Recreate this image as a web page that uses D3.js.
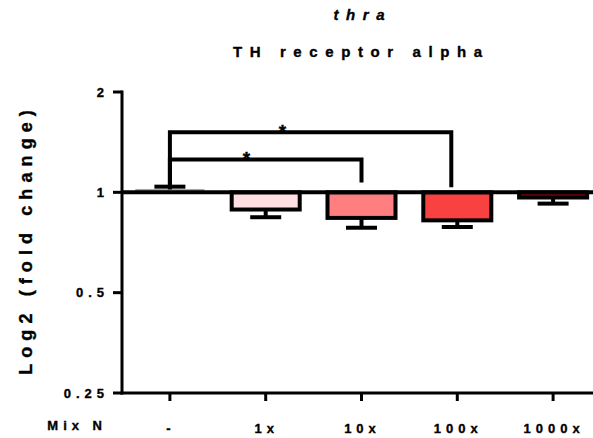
<!DOCTYPE html>
<html>
<head>
<meta charset="utf-8">
<script src="https://cdn.jsdelivr.net/npm/d3@7"></script>
<style>
  html, body { margin: 0; padding: 0; background: #fff; }
  svg { display: block; font-family: "Liberation Sans", Arial, sans-serif; font-weight: bold; }
  svg text { fill: #000; stroke: #000; stroke-width: 0.35px; }
</style>
</head>
<body>
<svg id="chart" width="593" height="438"></svg>
<script>
// Relative expression of thra (fold change vs control), mean and SEM per group
const categories = ["-", "1x", "10x", "100x", "1000x"];
const means = [1.02, 0.888, 0.838, 0.824, 0.965];
const sems = [0.02, 0.046, 0.055, 0.037, 0.040];
const fills = ["#a6a6a6", "#ffdfe1", "#ff7f80", "#fa4142", "#b00000"];
const yTicks = [0.25, 0.5, 1, 2];
const yTickLabels = ["0.25", "0.5", "1", "2"];
// significance comparisons against control, bracket height in fold-change units
const compareTo = ["10x", "100x"];
const bracketLevels = [1.255, 1.515];
const bracketLabels = ["*", "*"];

const svg = d3.select("#chart");
const plotLeft = 122, plotRight = 601, plotTop = 92, plotBottom = 393;

const x = d3.scaleBand().domain(categories).range([plotLeft, plotRight])
  .paddingInner(0.29).paddingOuter(0.145);
const y = d3.scaleLog().base(2).domain([0.25, 2]).range([plotBottom, plotTop]);
const cx = c => x(c) + x.bandwidth() / 2;

// wide-tracked labels; letter-spacing also trails the last glyph, so anchors are nudged by it
const tickLS = 5;

// titles
const titleLS = 7.6;
svg.append("text").attr("x", 359 + titleLS / 2).attr("y", 20).attr("text-anchor", "middle")
  .attr("font-size", 15).attr("font-style", "italic").style("letter-spacing", titleLS + "px")
  .text("thra");
svg.append("text").attr("x", 357.5 + titleLS / 2).attr("y", 57).attr("text-anchor", "middle")
  .attr("font-size", 15).style("letter-spacing", titleLS + "px")
  .text("TH receptor alpha");

// y axis label
const yLabLS = 6.1;
svg.append("text").attr("transform", `translate(32,${242.5 - yLabLS / 2}) rotate(-90)`)
  .attr("text-anchor", "middle").attr("font-size", 18).style("letter-spacing", yLabLS + "px")
  .text("Log2 (fold change)");

// bars
const bars = svg.append("g");
categories.forEach((c, i) => {
  const m = means[i];
  const y0 = y(1), y1 = y(m);
  const isCtrl = i === 0;
  bars.append("rect")
    .attr("x", x(c)).attr("width", x.bandwidth())
    .attr("y", Math.min(y0, y1)).attr("height", Math.abs(y1 - y0))
    .attr("fill", fills[i])
    .attr("stroke", isCtrl ? fills[i] : "#000")
    .attr("stroke-width", isCtrl ? 1 : 4);
  // error bar: extends away from the baseline
  const e = m >= 1 ? m + sems[i] : m - sems[i];
  bars.append("line").attr("x1", cx(c)).attr("x2", cx(c))
    .attr("y1", y1).attr("y2", y(e)).attr("stroke", "#000").attr("stroke-width", 4);
  bars.append("line").attr("x1", cx(c) - 15.5).attr("x2", cx(c) + 15.5)
    .attr("y1", y(e)).attr("y2", y(e)).attr("stroke", "#000").attr("stroke-width", 4);
});

// baseline at fold change = 1
svg.append("line").attr("x1", plotLeft).attr("x2", plotRight)
  .attr("y1", y(1)).attr("y2", y(1)).attr("stroke", "#000").attr("stroke-width", 4);

// significance brackets
const legOffsets = [0, -6];
const legEnds = [1.07, 1.035];
compareTo.forEach((c, i) => {
  const yl = y(bracketLevels[i]);
  const x0 = cx(categories[0]);
  const x1 = cx(c) + legOffsets[i];
  svg.append("path")
    .attr("d", `M${x0},${y(means[0] + sems[0])} V${yl} H${x1} V${y(legEnds[i])}`)
    .attr("fill", "none").attr("stroke", "#000").attr("stroke-width", 4)
    .attr("stroke-linejoin", "miter");
  svg.append("text").attr("x", x0 + (x1 - x0) * 0.4).attr("y", yl + 5.5)
    .attr("text-anchor", "middle").attr("font-size", 19).text(bracketLabels[i]);
});

// y axis
const yAxis = svg.append("g");
yAxis.append("line").attr("x1", plotLeft).attr("x2", plotLeft)
  .attr("y1", plotTop - 1.5).attr("y2", plotBottom + 1.5)
  .attr("stroke", "#000").attr("stroke-width", 3);
yTicks.forEach((t, i) => {
  yAxis.append("line").attr("x1", plotLeft - 9).attr("x2", plotLeft).attr("y1", y(t)).attr("y2", y(t))
    .attr("stroke", "#000").attr("stroke-width", 3);
  yAxis.append("text").attr("x", 104 + tickLS).attr("y", y(t) + 4.7).attr("text-anchor", "end")
    .attr("font-size", 13).style("letter-spacing", tickLS + "px").text(yTickLabels[i]);
});

// x axis
const xAxis = svg.append("g");
xAxis.append("line").attr("x1", plotLeft - 1.5).attr("x2", plotRight)
  .attr("y1", plotBottom).attr("y2", plotBottom)
  .attr("stroke", "#000").attr("stroke-width", 3);
categories.forEach(c => {
  xAxis.append("line").attr("x1", cx(c)).attr("x2", cx(c)).attr("y1", plotBottom).attr("y2", plotBottom + 8)
    .attr("stroke", "#000").attr("stroke-width", 3);
  xAxis.append("text").attr("x", cx(c) + tickLS / 2 - 1.5).attr("y", 433).attr("text-anchor", "middle")
    .attr("font-size", 13).style("letter-spacing", tickLS + "px").text(c);
});
svg.append("text").attr("x", 102 + tickLS).attr("y", 430).attr("text-anchor", "end")
  .attr("font-size", 13).style("letter-spacing", tickLS + "px").text("Mix N");
</script>
</body>
</html>
